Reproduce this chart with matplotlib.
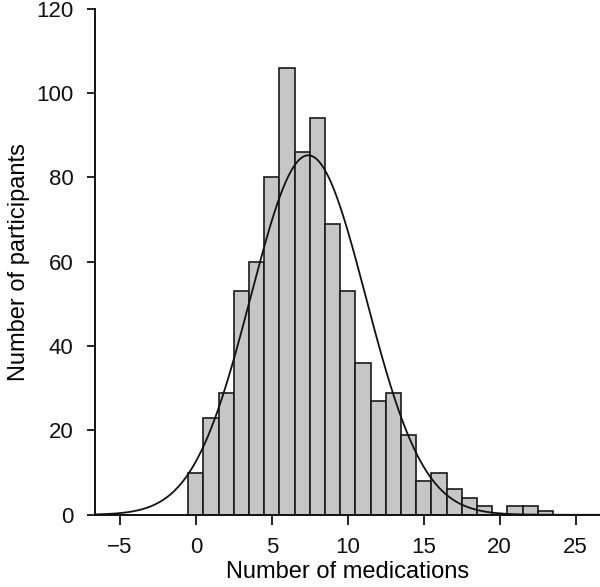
import numpy as np
import matplotlib.pyplot as plt

# histogram of medications per participant (bins of width 1, centred on integers)
medications = np.arange(0, 24)
participants = [10, 23, 29, 53, 60, 80, 106, 86, 94, 69, 53, 36,
                27, 29, 19, 8, 10, 6, 4, 2, 0, 2, 2, 1]

plt.rcParams['font.family'] = ['Liberation Sans', 'DejaVu Sans']

fig = plt.figure(figsize=(6.0, 5.87), dpi=100)
ax = fig.add_axes([0.158, 0.123, 0.842, 0.862])

ax.bar(medications, participants, width=1.0, color='#c6c6c6',
       edgecolor='#1a1a1a', linewidth=1.2, zorder=2)

# fitted normal curve
counts = np.array(participants, dtype=float)
n = counts.sum()
mu = (medications * counts).sum() / n
sd = np.sqrt(((medications - mu) ** 2 * counts).sum() / n)
xs = np.linspace(-6.65, 26.6, 600)
ys = n / (sd * np.sqrt(2 * np.pi)) * np.exp(-0.5 * ((xs - mu) / sd) ** 2)
ax.plot(xs, ys, color='#111111', linewidth=1.3, zorder=3)

ax.set_xlim(-6.65, 26.6)
ax.set_ylim(0, 120)
ax.set_xticks([-5, 0, 5, 10, 15, 20, 25])
ax.set_xticklabels(['\u22125', '0', '5', '10', '15', '20', '25'])
ax.set_yticks([0, 20, 40, 60, 80, 100, 120])

for side in ['top', 'right']:
    ax.spines[side].set_visible(False)
for side in ['left', 'bottom']:
    ax.spines[side].set_linewidth(1.4)
    ax.spines[side].set_color('#111111')
ax.spines['bottom'].set_zorder(4)

ax.tick_params(axis='x', direction='out', length=7, width=1.3,
               labelsize=16, colors='#111111', pad=9)
ax.tick_params(axis='y', direction='out', length=5.5, width=1.3,
               labelsize=16, colors='#111111', pad=10)

ax.set_xlabel('Number of medications', fontsize=17, labelpad=2)
ax.set_ylabel('Number of participants', fontsize=17, labelpad=4)

fig.savefig('out.png', dpi=100)
